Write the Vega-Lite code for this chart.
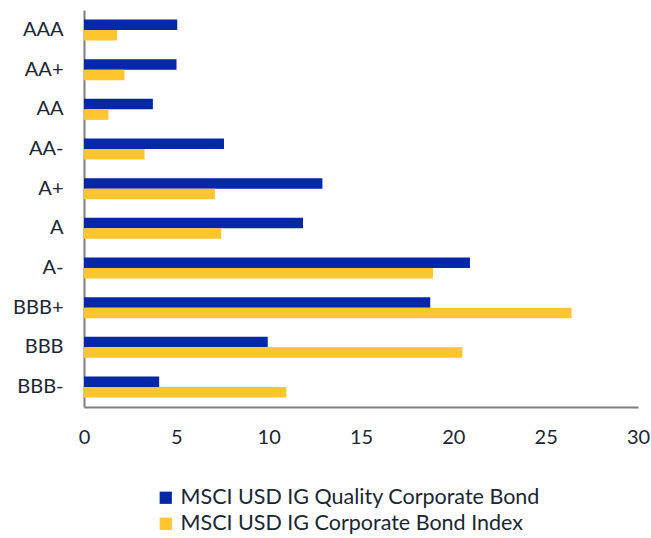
{
  "$schema": "https://vega.github.io/schema/vega-lite/v6.json",
  "autosize": "none",
  "padding": {"left": 84, "top": 10, "right": 13, "bottom": 131},
  "width": 554,
  "height": 397,
  "background": "white",
  "data": {"values": [
    {"rating": "AAA", "series": "MSCI USD IG Quality Corporate Bond", "value": 5.05},
    {"rating": "AAA", "series": "MSCI USD IG Corporate Bond Index", "value": 1.79},
    {"rating": "AA+", "series": "MSCI USD IG Quality Corporate Bond", "value": 5.01},
    {"rating": "AA+", "series": "MSCI USD IG Corporate Bond Index", "value": 2.19},
    {"rating": "AA", "series": "MSCI USD IG Quality Corporate Bond", "value": 3.73},
    {"rating": "AA", "series": "MSCI USD IG Corporate Bond Index", "value": 1.32},
    {"rating": "AA-", "series": "MSCI USD IG Quality Corporate Bond", "value": 7.58},
    {"rating": "AA-", "series": "MSCI USD IG Corporate Bond Index", "value": 3.28},
    {"rating": "A+", "series": "MSCI USD IG Quality Corporate Bond", "value": 12.91},
    {"rating": "A+", "series": "MSCI USD IG Corporate Bond Index", "value": 7.09},
    {"rating": "A", "series": "MSCI USD IG Quality Corporate Bond", "value": 11.86},
    {"rating": "A", "series": "MSCI USD IG Corporate Bond Index", "value": 7.43},
    {"rating": "A-", "series": "MSCI USD IG Quality Corporate Bond", "value": 20.9},
    {"rating": "A-", "series": "MSCI USD IG Corporate Bond Index", "value": 18.9},
    {"rating": "BBB+", "series": "MSCI USD IG Quality Corporate Bond", "value": 18.75},
    {"rating": "BBB+", "series": "MSCI USD IG Corporate Bond Index", "value": 26.4},
    {"rating": "BBB", "series": "MSCI USD IG Quality Corporate Bond", "value": 9.95},
    {"rating": "BBB", "series": "MSCI USD IG Corporate Bond Index", "value": 20.49},
    {"rating": "BBB-", "series": "MSCI USD IG Quality Corporate Bond", "value": 4.07},
    {"rating": "BBB-", "series": "MSCI USD IG Corporate Bond Index", "value": 10.96}
  ]},
  "mark": {"type": "bar"},
  "encoding": {
    "y": {
      "field": "rating", "type": "nominal",
      "sort": ["AAA", "AA+", "AA", "AA-", "A+", "A", "A-", "BBB+", "BBB", "BBB-"],
      "scale": {"paddingInner": 0.47, "paddingOuter": 0.24},
      "axis": {
        "title": null, "ticks": false, "labelPadding": 21, "labelFontSize": 20,
        "labelFont": "Lato", "labelColor": "#1b2633", "domainColor": "#7f7f7f", "domainWidth": 2
      }
    },
    "yOffset": {
      "field": "series", "type": "nominal",
      "sort": ["MSCI USD IG Quality Corporate Bond", "MSCI USD IG Corporate Bond Index"]
    },
    "x": {
      "field": "value", "type": "quantitative",
      "scale": {"domain": [0, 30], "nice": false},
      "axis": {
        "title": null, "values": [0, 5, 10, 15, 20, 25, 30], "grid": false, "ticks": false,
        "labelPadding": 20, "labelFontSize": 20, "labelFont": "Lato", "labelColor": "#1b2633",
        "domainColor": "#7f7f7f", "domainWidth": 2, "labelFlush": false
      }
    },
    "color": {
      "field": "series", "type": "nominal",
      "sort": ["MSCI USD IG Quality Corporate Bond", "MSCI USD IG Corporate Bond Index"],
      "scale": {"range": ["#0527A8", "#FFC52F"]},
      "legend": {
        "title": null, "orient": "none", "legendX": 71, "legendY": 477, "direction": "vertical",
        "symbolType": "square", "symbolSize": 150, "symbolStrokeWidth": 0, "symbolOpacity": 1,
        "labelFontSize": 21.5, "labelFont": "Lato", "labelColor": "#1b2633", "labelLimit": 0,
        "rowPadding": 3, "labelOffset": 4
      }
    }
  },
  "config": {"view": {"stroke": null}}
}
